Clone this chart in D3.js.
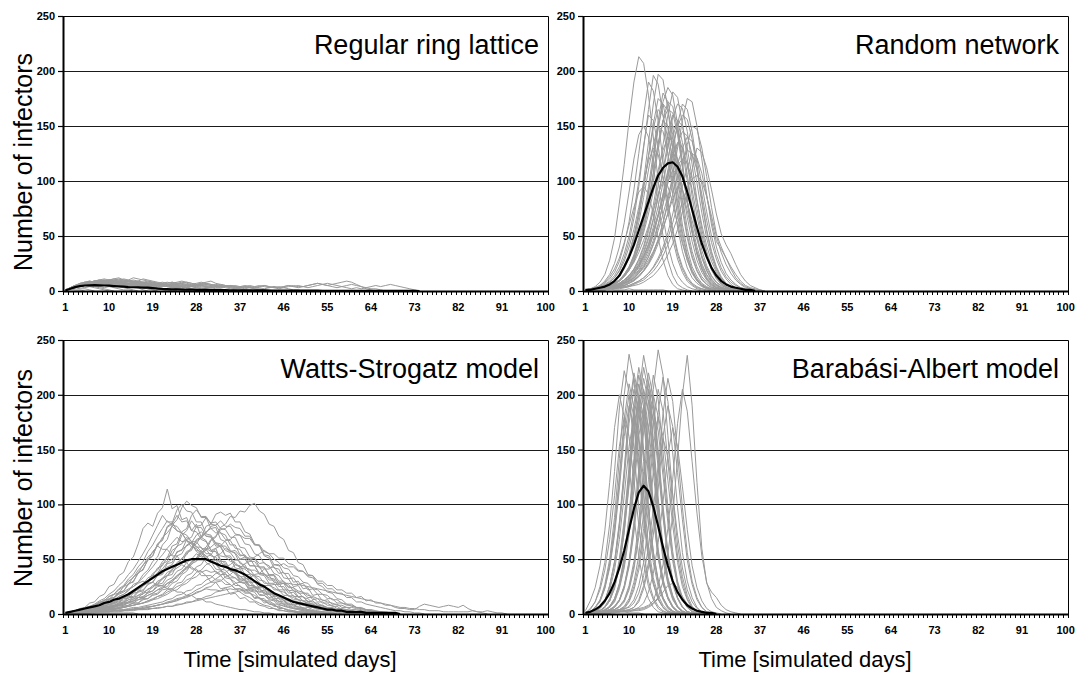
<!DOCTYPE html>
<html><head><meta charset="utf-8">
<script src="https://cdn.jsdelivr.net/npm/d3@7"></script>
<style>
body{margin:0;background:#fff;}
svg{display:block;font-family:"Liberation Sans",Arial,sans-serif;}
.tk text{font-family:"Liberation Sans",Arial,sans-serif;font-weight:bold;font-size:11px;fill:#000;}
</style></head><body>
<svg id="c" width="1077" height="674"></svg>
<script>
// ---------- categories / ticks / labels ----------
const days = d3.range(1, 101);
const xTickLabels = [1,10,19,28,37,46,55,64,73,82,91,100];
const yTicks = [0,50,100,150,200,250];
const panelTitles = ["Regular ring lattice","Random network","Watts-Strogatz model","Barabási-Albert model"];
const yTitle = "Number of infectors";
const xTitle = "Time [simulated days]";

// ---------- Regular ring lattice (values from day 1) ----------
const ringMean = [0.5,2,3.5,4.5,5,5.2,5.3,5.2,5,4.8,4.5,4.2,3.9,3.6,3.4,3.3,3.1,3,2.6,2.2,1.9,1.7,1.5,1.4,1.3,1.2,1.2,1.1,1,1,0.9,0.9,0.8,0.8,0.7,0.7,0.6,0.6,0.6,0.5,0.5,0.5,0.4,0.4,0.4,0.4,0.3,0.3,0.3,0.3,0.3,0.3,0.3,0.2,0.2,0.2,0.2,0.2,0.2,0.2,0.2,0.2,0.1,0.1,0.1,0.1,0.1,0.1,0.1,0.1,0.1,0.1,0.1,0];
const ringRuns = [
[1,3,5,6,7,6,7,8,7,6,7,6,5,6,5,4,3,2,1,0],
[1,3,5,7,8,7,8,9,8,9,10,9,8,9,8,7,8,7,6,7,6,5,6,5,4,5,4,3,3,2,2,1,1,0],
[1,2,4,5,6,5,4,3,2,1,0],
[1,2,4,6,7,8,9,8,9,10,11,12,10,9,8,9,8,7,6,5,6,5,4,3,2,1,0],
[1,3,4,6,7,7,8,7,6,7,8,7,6,7,8,9,11,10,9,8,7,8,7,8,9,8,7,6,7,6,5,6,5,4,5,4,3,4,3,2,2,1,1,0],
[1,2,3,2,2,1,0],
[1,2,3,5,6,6,7,6,7,8,7,8,7,6,5,6,5,4,3,3,2,1,1,0],
[1,2,4,5,6,7,6,7,8,7,8,9,8,7,8,7,6,7,6,5,6,7,8,7,6,5,6,7,8,7,6,5,6,5,4,5,4,5,4,3,4,5,4,3,4,3,4,5,4,4,5,6,7,6,5,6,7,8,9,8,6,4,2,1,0],
[1,2,3,4,5,6,5,6,7,6,5,6,5,6,7,6,5,6,5,4,5,6,5,6,7,8,7,6,5,6,5,4,5,4,5,4,3,4,5,4,5,4,3,4,3,4,5,4,3,4,5,6,7,6,5,4,3,4,3,2,3,2,3,4,5,4,5,6,5,4,3,2,1,0],
[1,2,4,5,7,8,9,8,9,10,9,8,7,6,4,3,1,0],
[1,3,4,5,6,7,6,7,8,9,8,7,8,9,10,9,8,7,8,7,6,5,6,5,4,3,2,2,1,0],
[1,2,3,4,5,4,5,4,3,4,3,2,1,1,0],
[1,2,4,5,6,7,8,7,6,7,6,7,6,5,6,5,6,7,6,7,8,7,8,7,6,5,4,5,6,7,6,5,4,4,3,2,2,1,1,0],
[1,3,5,6,7,8,9,10,9,8,9,8,7,6,7,6,5,4,3,2,1,0],
[1,2,3,5,6,5,6,7,6,5,6,5,4,5,6,5,4,5,4,5,6,5,6,5,4,3,4,5,4,3,4,5,4,5,4,3,4,3,4,3,4,5,4,3,2,3,2,1,1,0],
[1,2,3,4,3,4,3,2,1,0],
[1,2,3,5,6,5,6,7,8,7,6,7,8,7,6,7,6,5,6,7,6,5,4,5,4,3,4,3,2,2,1,1,0],
[1,2,3,4,5,6,5,4,5,6,5,4,5,4,5,6,5,4,3,4,5,4,3,4,5,4,5,6,5,4,3,4,3,4,3,2,3,4,3,4,3,2,3,4,3,4,5,4,5,4,3,4,5,6,7,6,5,4,5,6,5,4,3,2,2,1,0],
[1,2,1,1,0],
[1,3,5,6,7,8,7,8,9,8,9,10,11,10,9,8,7,8,7,6,7,6,7,6,5,6,5,6,7,8,9,7,6,5,4,3,2,1,0],
[1,2,4,6,7,8,9,10,9,10,11,10,9,8,9,8,7,6,7,6,5,4,3,2,1,0],
[1,3,5,6,7,6,7,6,7,8,9,8,7,6,5,4,3,2,1,0],
[1,2,3,5,6,7,8,9,10,9,8,7,8,7,8,7,6,5,6,5,4,5,4,3,4,3,2,1,1,0],
[1,2,4,5,6,5,6,7,6,7,8,7,6,7,6,5,6,5,4,3,4,5,6,7,8,7,6,5,6,5,4,3,4,3,2,1,0],
[1,3,4,6,8,9,8,9,8,7,8,9,10,9,8,7,6,5,4,3,2,1,0],
[1,2,3,4,5,6,7,6,5,6,7,8,7,6,7,6,5,6,5,6,5,4,5,4,3,4,5,4,5,4,3,4,3,4,5,4,3,2,3,2,1,1,0],
[1,3,5,7,8,9,8,9,10,9,10,11,10,9,8,7,8,9,8,7,6,5,4,3,2,1,0],
[1,2,3,4,5,6,7,8,7,6,5,4,3,2,1,0],
[1,2,4,6,7,8,7,8,9,8,9,8,7,6,7,8,7,6,5,6,5,4,5,6,7,6,5,4,5,4,3,2,2,1,0],
[1,2,3,5,7,8,9,10,11,10,9,8,9,10,12,11,10,9,8,7,6,5,4,3,2,1,0]
];

// ---------- Random network ----------
const randomMean = [1,1,2,3,4,6,9,14,22,31,42,55,68,81,94,105,112,116,117,113,104,90,74,58,43,31,21,14,9,6,4,3,2,1,1,0];
const randomRuns = [
[1,2,4,8,15,28,48,80,115,155,190,213,207,178,140,100,68,42,25,14,8,4,2,1,0],
[1,1,2,3,5,8,12,19,30,45,66,95,130,165,196,188,160,125,88,58,36,21,12,7,4,2,1,0],
[1,1,2,2,4,6,9,14,22,33,50,72,100,135,170,197,192,165,130,92,60,38,22,13,7,4,2,1,0],
[1,2,3,4,7,11,17,27,42,63,92,125,160,190,182,155,118,82,54,33,20,11,6,3,2,1,0],
[1,1,1,2,3,5,7,10,15,22,33,48,68,95,125,155,180,172,150,118,85,57,36,22,13,8,4,2,1,0],
[1,1,1,2,2,3,5,7,10,14,20,29,41,57,78,104,133,160,181,176,152,120,86,58,37,23,14,8,5,3,1,0],
[1,1,1,1,2,2,3,4,5,7,9,13,18,25,34,46,62,82,105,130,155,175,172,150,120,88,60,40,26,16,10,6,3,2,1,0],
[1,1,2,2,3,4,6,9,13,19,27,39,55,76,100,128,155,172,168,146,115,82,55,35,21,12,7,4,2,1,0],
[1,1,1,2,2,3,4,6,8,12,17,24,34,47,64,86,110,135,158,170,166,145,115,83,56,36,22,13,7,4,2,1,0],
[1,2,2,3,5,7,10,15,23,34,50,70,95,122,148,165,160,138,108,76,50,31,18,10,5,3,1,0],
[1,1,1,1,2,3,4,5,7,10,14,19,27,37,51,68,88,110,132,150,160,156,138,110,80,54,34,21,12,7,4,2,1,0],
[1,1,2,2,3,5,7,10,15,21,30,43,60,82,108,135,155,150,130,102,73,48,30,18,10,6,3,2,1,0],
[1,1,1,2,3,4,5,7,10,14,19,26,36,49,66,86,108,130,150,146,128,100,72,48,30,18,10,6,3,2,1,0],
[1,1,1,1,1,2,2,3,4,5,7,9,12,16,22,30,40,53,70,90,112,133,150,147,130,104,76,52,40,30,22,15,9,5,3,2,1,0],
[1,2,3,5,9,15,25,40,62,90,120,142,150,140,115,80,50,28,14,6,3,1,0],
[1,1,2,2,3,5,7,10,14,20,28,39,53,70,90,110,128,140,136,118,93,67,45,28,17,10,5,3,1,0],
[1,1,1,2,2,3,4,6,8,11,15,21,29,39,52,68,86,105,123,135,131,115,92,68,47,31,19,11,6,3,2,1,0],
[1,2,2,3,5,8,12,18,27,40,56,76,98,118,130,124,104,80,56,36,22,13,7,4,2,1,0],
[1,1,1,1,2,2,3,4,5,7,10,13,18,24,32,43,56,71,88,105,119,128,125,110,88,64,44,29,18,11,6,3,2,1,0],
[1,1,1,2,2,3,4,5,7,9,12,17,23,31,42,55,70,86,102,114,120,116,102,82,60,41,27,17,10,6,3,2,1,0],
[1,1,2,2,3,4,5,7,10,13,18,24,32,42,55,69,84,99,110,106,92,73,53,36,23,14,8,5,3,1,0],
[1,1,2,3,4,5,7,10,14,19,26,35,46,59,73,88,100,95,80,61,43,28,17,10,5,3,1,0],
[1,1,1,1,1,2,2,3,3,4,6,8,10,14,18,24,32,42,54,67,81,94,102,105,100,86,68,50,35,24,16,10,6,3,2,1,0],
[1,1,1,2,2,3,4,5,7,9,12,16,21,28,36,46,58,70,84,95,92,80,64,47,32,21,13,8,4,2,1,0],
[1,2,3,4,6,9,14,22,34,50,72,100,132,160,155,132,102,72,47,29,17,9,5,2,1,0],
[1,1,2,2,3,4,6,9,13,19,28,40,57,80,106,133,155,165,162,142,112,80,53,33,20,11,6,3,2,1,0],
[1,1,2,3,4,6,9,14,21,32,47,67,93,123,152,175,170,148,116,82,54,33,19,11,6,3,2,1,0],
[1,1,1,1,2,3,4,5,7,9,13,18,25,34,46,61,79,98,117,134,145,141,124,98,71,48,31,19,11,6,3,2,1,0],
[1,1,1,2,2,3,5,7,10,14,20,28,39,54,73,96,121,144,160,155,135,106,76,51,32,19,11,6,3,2,1,0],
[1,1,1,1,2,2,3,3,4,5,7,9,12,16,21,28,37,48,62,78,95,112,125,121,107,86,64,45,38,30,20,12,7,4,2,1,0],
[1,1,2,1,1,2,1,1,1,2,1,1,1,1,1,1,1,0],
[1,2,3,5,8,13,20,30,44,60,76,90,95,88,70,48,28,14,6,2,1,0],
[1,1,2,2,3,5,7,10,15,22,32,46,65,90,118,148,170,164,142,110,78,51,32,19,11,6,3,2,1,0],
[1,1,1,2,2,3,4,6,8,11,16,22,31,43,58,77,98,120,140,155,150,130,103,75,51,33,20,12,7,4,2,1,0],
[1,1,1,1,2,2,3,4,5,7,10,14,19,26,35,47,62,79,97,115,130,140,136,120,97,72,50,33,21,13,8,5,3,2,1,0],
[1,1,2,2,3,4,6,9,14,21,31,45,64,89,118,150,172,185,178,152,117,82,54,34,20,11,6,3,2,1,0],
[1,1,1,2,2,3,4,6,9,12,17,23,31,41,54,70,88,108,125,121,105,82,59,40,25,15,9,5,3,1,0],
[1,1,2,3,4,6,9,13,20,30,44,62,85,110,133,150,145,125,97,69,45,28,16,9,5,2,1,0],
[1,1,1,1,2,2,3,4,6,8,11,16,22,31,43,59,79,102,127,152,170,165,145,115,83,56,36,22,13,7,4,2,1,0],
[1,1,1,1,1,2,2,2,3,4,5,6,8,11,14,19,25,33,43,56,72,90,110,130,126,112,92,70,52,42,34,24,15,9,5,3,1,0]
];

// ---------- Watts-Strogatz model ----------
const wsMean = [1,2,3,4,5,6,7,8,10,11,13,14,16,18,21,24,27,30,33,36,39,41,43,45,47,49,50,50,50,50,48,46,44,43,41,40,38,36,33,30,27,25,22,19,17,15,13,11,10,9,8,7,6,5,4,4,3,3,2,2,2,2,1,1,1,1,1,1,1,0];
const wsRuns = [
[1,2,3,5,6,10,11,16,18,25,27,35,38,48,52,64,78,83,80,92,97,114,96,99,86,88,76,82,70,67,58,60,49,46,40,38,29,28,21,20,14,14,9,9,5,5,3,2,2,1,1,0],
[1,1,2,3,4,4,6,8,9,11,12,16,18,21,27,29,36,40,48,52,63,68,81,86,97,103,99,97,88,88,78,79,68,66,58,55,46,45,37,34,28,26,20,19,14,13,9,9,6,5,4,3,2,1,1,0],
[1,1,1,2,2,3,3,3,4,5,5,6,7,8,10,10,13,14,17,18,22,23,28,30,36,39,46,48,56,58,67,70,79,82,89,88,94,93,99,101,94,91,82,80,71,68,58,56,47,45,36,35,27,25,20,19,14,13,9,9,6,5,4,3,2,2,1,1,0],
[1,2,3,4,4,6,7,10,10,14,15,20,21,27,30,37,41,49,53,64,68,80,83,95,100,94,93,84,84,73,72,64,61,53,51,42,41,33,31,25,24,18,18,13,12,9,9,5,5,4,3,2,1,1,0],
[1,1,2,2,3,4,5,6,8,8,11,11,15,16,21,22,28,30,37,40,48,51,62,64,75,78,90,95,89,89,82,81,74,72,63,63,54,53,44,44,36,35,28,28,22,22,16,17,13,12,9,9,6,6,4,4,3,2,2,1,1,0],
[1,1,1,2,2,3,4,4,5,6,6,8,8,11,11,15,15,20,21,27,28,35,36,45,46,56,58,68,70,80,82,91,93,90,92,84,84,75,73,64,62,53,51,42,41,33,32,25,26,19,19,13,14,10,10,7,7,4,4,3,2,2,1,1,0],
[1,2,2,3,4,5,7,9,9,13,14,19,21,28,29,38,40,50,53,64,67,79,82,90,84,85,76,75,68,66,58,57,48,48,40,39,31,31,24,24,17,17,13,12,8,8,6,5,4,3,2,1,1,0],
[1,1,2,2,3,3,4,5,6,7,8,10,11,15,15,20,21,27,29,36,37,46,47,57,58,68,70,80,81,88,83,84,78,77,70,70,61,60,52,51,43,43,35,35,27,28,21,22,16,16,11,12,8,8,5,5,4,3,2,2,1,1,0],
[1,1,2,2,3,4,4,5,7,7,10,10,14,14,19,20,26,28,35,36,46,48,58,61,72,76,85,79,79,71,70,62,62,53,53,45,44,36,36,29,29,22,23,16,17,12,12,8,9,5,6,4,3,2,2,1,1,0],
[1,1,1,1,2,2,3,3,4,4,5,6,7,8,10,10,14,14,18,19,24,25,31,33,39,41,48,51,58,61,68,71,77,78,82,79,78,71,71,63,63,54,53,45,45,37,37,29,30,23,24,17,18,12,13,9,9,6,6,4,4,3,2,2,1,1,0],
[1,2,3,4,5,6,8,10,13,13,18,19,25,27,34,37,45,49,57,62,70,74,80,76,74,67,65,58,57,49,48,41,40,33,32,26,26,20,20,14,15,10,11,7,7,5,4,3,2,2,1,1,0],
[1,1,2,2,3,3,4,5,5,7,7,9,10,13,13,17,18,23,24,30,32,38,40,47,50,57,59,67,69,75,78,74,74,68,67,60,59,52,51,44,43,36,35,29,28,22,22,16,16,12,12,8,8,5,5,3,3,2,2,1,1,0],
[1,1,2,3,3,4,5,6,7,9,9,12,12,16,16,21,22,27,29,35,36,43,45,53,55,63,65,72,75,71,71,65,64,58,56,50,48,42,41,35,34,28,28,22,22,17,17,13,13,9,10,6,7,4,4,3,2,2,1,1,0],
[1,1,1,1,2,2,2,3,3,4,4,5,6,7,8,9,10,12,14,16,18,22,23,28,29,35,37,43,45,52,54,60,62,67,68,72,72,69,69,63,63,57,55,50,47,42,41,35,34,29,28,23,22,18,17,13,13,10,9,7,6,5,4,3,2,2,1,1,0],
[1,2,2,3,4,4,5,7,8,10,11,14,15,19,20,25,27,33,35,42,44,52,54,62,64,70,66,66,60,59,53,52,46,45,39,38,32,32,26,26,20,20,15,16,11,12,8,9,5,6,4,3,2,2,1,1,0],
[1,1,1,2,2,3,3,4,4,5,6,7,8,10,10,13,14,17,19,22,23,28,29,35,37,43,45,51,53,59,61,65,62,62,57,56,50,50,44,44,37,37,31,31,25,25,19,20,15,16,11,12,8,8,6,6,4,4,3,2,2,1,1,0],
[1,2,3,4,5,7,8,11,12,16,18,22,25,30,33,40,44,52,56,62,59,59,53,53,47,47,41,41,35,35,29,29,23,24,18,19,14,15,11,11,8,7,5,5,3,3,2,2,1,1,0],
[1,1,1,1,2,2,2,3,3,4,4,5,6,7,8,9,10,12,13,16,17,20,22,25,27,31,33,38,40,45,47,53,55,60,57,58,53,54,48,48,42,42,36,36,30,30,24,24,19,19,15,15,11,11,8,8,5,5,4,3,2,2,1,1,0],
[1,1,2,2,3,3,4,5,5,6,7,8,9,11,12,15,16,19,21,25,26,31,33,39,41,47,50,55,52,53,48,49,44,44,39,39,34,34,29,29,24,24,20,20,16,16,12,12,9,9,6,6,4,4,3,2,2,1,1,0],
[1,1,1,1,1,2,2,2,3,3,3,4,4,5,6,6,7,8,9,10,11,13,14,17,18,21,22,26,27,31,33,37,39,43,45,49,50,52,50,51,46,47,42,43,37,38,32,33,27,28,22,23,18,18,14,14,10,10,8,8,6,6,4,4,3,2,2,1,1,0],
[1,1,2,2,3,3,4,5,6,7,8,9,11,13,15,17,20,22,26,28,33,35,39,42,45,42,43,39,39,35,35,31,31,27,27,23,23,19,19,15,15,12,12,9,9,7,6,5,4,3,2,2,1,1,0],
[1,1,1,2,2,2,3,3,4,4,5,5,6,7,8,9,10,11,13,14,16,18,21,22,26,28,32,34,38,40,38,39,36,36,33,33,29,29,26,25,22,21,18,17,15,14,12,11,9,8,7,6,5,4,3,3,2,2,1,1,0],
[1,1,1,1,1,1,2,2,2,2,3,3,3,4,4,5,5,6,7,8,9,10,11,12,14,15,17,19,21,23,22,22,21,22,23,22,23,21,22,21,20,22,19,18,17,15,14,12,11,10,9,8,7,6,5,4,3,3,2,2,1,1,1,0],
[1,2,3,4,5,6,8,10,11,14,15,18,20,23,25,28,30,28,29,26,26,23,23,20,20,17,17,14,14,11,11,9,8,7,6,5,4,4,3,2,2,1,1,0],
[1,1,1,1,1,1,1,1,1,1,1,1,1,1,1,0],
[1,1,1,1,1,1,1,2,2,2,2,2,3,3,3,4,4,4,5,5,6,7,7,9,9,11,11,13,14,16,17,20,21,24,25,28,29,32,33,36,37,41,41,45,44,46,43,43,39,39,35,35,30,30,26,26,22,22,19,19,15,16,12,13,10,10,8,8,6,5,5,4,4,7,9,8,7,6,7,8,7,6,8,5,3,2,1,0],
[1,1,1,1,1,1,2,2,2,2,3,3,3,4,4,5,5,6,7,8,9,10,11,13,14,16,17,20,21,24,25,29,30,34,36,40,42,46,48,52,55,58,55,55,51,51,46,45,40,39,34,33,28,28,23,23,19,19,15,15,11,11,9,8,7,6,5,4,3,3,2,2,1,1,0],
[1,2,3,4,5,6,8,10,12,16,18,23,26,32,36,43,48,57,63,71,78,85,81,80,74,72,66,62,57,53,48,45,40,37,32,29,25,23,19,17,14,12,9,8,6,5,3,3,2,2,1,1,0],
[1,1,1,1,1,1,2,2,2,2,3,3,3,3,4,4,4,5,5,6,6,7,7,8,9,10,11,12,13,14,15,16,17,18,19,20,21,22,23,24,25,26,26,27,27,28,28,27,27,26,25,24,23,22,21,20,19,18,17,16,15,14,13,12,11,10,9,8,7,6,6,5,5,4,4,3,3,3,2,2,2,2,2,2,3,2,2,3,2,1,1,0],
[1,2,2,3,4,5,6,8,9,11,13,16,18,22,25,29,33,38,43,49,54,60,65,70,66,67,61,60,55,53,48,46,41,40,35,33,29,28,23,22,18,17,14,13,10,9,7,6,5,4,3,2,2,1,1,0],
[1,1,1,2,2,3,3,4,5,6,7,8,10,11,14,15,19,20,25,27,32,35,41,44,51,54,61,64,71,74,80,81,85,80,80,73,72,64,63,55,53,46,44,37,35,29,27,21,20,15,14,10,10,7,6,4,4,3,2,2,1,1,0],
[1,1,2,2,3,4,5,6,7,9,10,13,14,17,19,23,25,30,32,38,41,47,50,56,59,62,65,61,61,55,55,49,48,42,42,36,35,30,29,24,23,19,18,14,14,10,10,7,7,5,4,3,2,2,1,1,0],
[1,1,1,1,1,2,2,2,2,3,3,3,4,4,5,5,6,7,7,8,9,11,12,14,15,17,19,22,24,27,29,32,35,38,41,45,43,43,40,40,37,36,33,32,29,28,25,24,21,20,17,16,14,13,11,10,8,8,6,6,5,4,3,3,2,2,1,1,0],
[1,2,3,4,6,7,9,12,14,18,21,26,30,36,41,48,55,63,72,81,90,84,84,76,74,67,64,57,54,47,44,38,35,30,27,23,20,17,15,12,10,8,7,5,4,3,2,2,1,1,0],
[1,1,2,2,3,3,4,4,5,6,7,8,9,10,12,13,15,17,19,22,25,28,31,35,39,43,47,51,56,60,57,57,53,52,48,47,42,41,37,35,31,30,26,24,21,20,17,15,13,12,10,9,7,6,5,4,3,2,2,1,1,0]
];

// ---------- Barabási-Albert model ----------
const baMean = [1,2,4,7,12,19,29,42,58,77,96,111,117,112,98,80,61,44,30,20,13,8,5,3,2,1,1,0];
const baRuns = [
[1,5,11,25,47,82,130,188,222,203,150,98,57,30,15,7,3,1,0],
[1,2,6,12,27,50,88,142,200,237,214,160,108,62,33,17,8,3,1,0],
[1,1,2,5,10,26,48,84,132,187,220,198,150,98,57,31,15,7,3,1,0],
[1,1,2,3,6,13,26,48,83,130,185,218,196,148,98,57,30,15,7,3,1,0],
[1,1,1,2,3,7,14,28,52,90,142,200,236,212,160,106,61,33,17,7,3,1,0],
[1,1,1,1,2,2,3,4,7,14,29,53,92,145,205,241,218,163,108,63,34,17,7,3,1,0],
[1,1,1,1,1,1,2,2,2,3,3,4,5,7,10,15,30,55,90,142,200,236,190,120,60,28,20,15,8,4,2,1,0],
[1,1,1,1,1,2,2,2,3,3,4,5,6,8,12,25,45,78,123,174,205,185,139,92,53,29,14,6,3,1,0],
[1,1,2,3,6,12,25,46,80,126,178,210,189,143,95,55,29,14,6,2,1,0],
[1,1,1,2,4,7,13,26,47,82,129,183,215,194,146,97,56,30,15,6,2,1,0],
[1,1,1,2,2,4,7,13,25,47,81,127,180,212,191,144,95,55,30,15,6,2,1,0],
[1,1,1,1,2,3,4,7,12,24,44,76,120,170,200,180,136,90,52,28,14,6,2,1,0],
[1,1,2,6,12,25,45,78,123,174,205,185,139,92,53,29,14,6,2,1,0],
[1,1,1,1,1,2,2,3,4,7,13,26,47,82,130,184,216,194,147,97,56,30,15,6,2,1,0],
[1,1,1,1,1,1,2,2,3,4,6,13,26,47,82,129,183,215,194,146,97,56,30,15,6,2,1,0],
[1,2,6,11,23,42,72,114,162,190,171,129,86,49,27,13,6,2,1,0],
[1,1,2,3,6,12,24,44,76,120,170,200,180,136,90,52,28,14,6,2,1,0],
[1,1,1,2,2,3,6,12,23,43,74,117,166,195,176,133,88,51,27,14,6,2,1,0],
[3,12,24,44,76,120,170,200,180,136,90,52,28,14,6,2,1,0],
[1,1,1,2,3,6,11,23,42,72,114,162,190,171,129,86,49,27,13,6,2,1,0],
[1,1,1,1,2,3,4,6,11,22,41,70,111,157,185,167,126,83,48,26,13,6,2,1,0],
[1,1,1,1,1,1,2,2,3,3,4,6,10,20,37,65,102,145,170,153,116,77,44,24,12,5,2,1,0],
[1,1,2,5,11,22,40,68,108,153,180,162,122,81,47,25,13,5,2,1,0],
[1,1,1,1,2,2,3,4,6,12,25,45,78,123,174,205,185,139,92,53,29,14,6,2,1,0],
[1,4,11,22,40,68,108,153,180,162,122,81,47,25,13,5,2,1,0],
[1,1,1,2,2,4,7,13,26,48,84,132,187,220,198,150,99,57,31,15,7,2,1,0],
[1,1,1,2,4,6,12,25,45,78,123,174,205,185,139,92,53,29,14,6,2,1,0],
[1,1,1,1,1,2,2,3,5,6,10,19,35,61,96,136,160,144,109,72,42,22,11,5,2,1,0],
[1,1,2,3,7,14,27,50,86,135,191,225,203,153,101,59,32,16,7,2,1,0],
[1,2,6,13,25,46,80,126,178,210,189,143,95,55,29,14,6,2,1,0],
[1,2,3,2,3,4,3,2,2,1,1,1,0],
[1,1,1,1,1,1,1,2,2,2,3,3,4,6,9,14,20,26,28,24,16,9,5,2,1,0],
[1,1,2,6,12,26,47,82,129,183,215,194,146,97,56,30,15,6,2,1,0],
[1,1,1,2,3,7,14,27,50,86,135,191,225,203,153,101,59,32,16,7,2,1,0],
[1,1,1,1,2,4,6,12,25,45,78,123,174,205,185,139,92,53,29,14,6,2,1,0],
[1,1,2,3,6,12,23,43,74,117,166,195,176,133,88,51,27,14,6,2,1,0],
[1,1,1,1,2,3,4,7,13,26,48,83,130,185,218,196,148,98,57,30,15,7,3,1,0],
[1,1,1,1,2,2,3,4,5,11,22,40,68,108,153,180,162,122,81,47,25,13,5,2,1,0],
[1,2,6,12,24,44,76,120,170,200,180,136,90,52,28,14,6,2,1,0],
[1,1,1,1,1,1,2,2,3,4,6,11,23,42,72,114,162,190,171,129,86,49,27,13,6,2,1,0]
];

// ---------- layout (positions / styles only) ----------
const layout = [
  {x0:63, x1:548, y0:16, y1:291},
  {x0:583, x1:1068, y0:16, y1:291},
  {x0:63, x1:548, y0:340, y1:614},
  {x0:583, x1:1068, y0:340, y1:614}
];
const runsByPanel = [ringRuns, randomRuns, wsRuns, baRuns];
const meanByPanel = [ringMean, randomMean, wsMean, baMean];

const svg = d3.select("#c");

layout.forEach((L, pi) => {
  const g = svg.append("g");
  const x = d3.scaleBand().domain(days).range([L.x0, L.x1]).padding(0);
  const y = d3.scaleLinear().domain([0, 250]).range([L.y1, L.y0]);
  const cx = d => x(d) + x.bandwidth() / 2;
  const line = d3.line().x((v, i) => cx(days[i])).y(v => y(v));

  // gridlines
  g.selectAll(".grid").data(yTicks.filter(t => t > 0 && t < 250)).enter().append("line")
    .attr("x1", L.x0).attr("x2", L.x1)
    .attr("y1", t => Math.round(y(t)) + 0.5).attr("y2", t => Math.round(y(t)) + 0.5)
    .attr("stroke", "#1a1a1a").attr("stroke-width", 1);

  // individual runs
  g.selectAll(".run").data(runsByPanel[pi]).enter().append("path")
    .attr("d", r => line(r))
    .attr("fill", "none").attr("stroke", "#9a9a9a").attr("stroke-width", 1)
    .attr("stroke-linejoin", "round");

  // mean
  g.append("path").attr("d", line(meanByPanel[pi]))
    .attr("fill", "none").attr("stroke", "#000").attr("stroke-width", 2.2)
    .attr("stroke-linejoin", "round");

  // plot border (top & right)
  g.append("path")
    .attr("d", `M${L.x0},${Math.round(y(250)) + 0.5}H${L.x1 + 0.5}V${L.y1}`)
    .attr("fill", "none").attr("stroke", "#000").attr("stroke-width", 1);

  // y axis
  const ya = g.append("g").attr("class", "tk").attr("transform", `translate(${L.x0},0)`)
    .call(d3.axisLeft(y).tickValues(yTicks).tickSize(5).tickSizeOuter(0).tickPadding(3));
  ya.attr("font-size", null).attr("font-family", null);
  ya.select(".domain").attr("stroke-width", 2);
  ya.selectAll(".tick line").attr("stroke-width", 1.2);

  // x axis
  const xa = g.append("g").attr("class", "tk").attr("transform", `translate(0,${L.y1})`)
    .call(d3.axisBottom(x).tickValues(xTickLabels).tickSize(0).tickSizeOuter(0).tickPadding(12));
  xa.attr("font-size", null).attr("font-family", null);
  xa.select(".domain").attr("stroke-width", 2);
  // category boundary tick marks
  const bounds = days.map(d => x(d)).concat([L.x1]);
  xa.selectAll(".minor").data(bounds).enter().append("line")
    .attr("x1", b => Math.round(b) + 0.5).attr("x2", b => Math.round(b) + 0.5)
    .attr("y1", 0).attr("y2", 4).attr("stroke", "#000").attr("stroke-width", 1);

  // panel title
  g.append("text").attr("x", L.x1 - 9).attr("y", L.y0 + 38)
    .attr("text-anchor", "end").attr("font-size", 27).attr("fill", "#000")
    .text(panelTitles[pi]);
});

// axis titles
[{cy:162}, {cy:478}].forEach(o => {
  svg.append("text").attr("transform", `translate(32,${o.cy}) rotate(-90)`)
    .attr("text-anchor", "middle").attr("font-size", 25).attr("fill", "#000").text(yTitle);
});
[{cx:290}, {cx:805}].forEach(o => {
  svg.append("text").attr("x", o.cx).attr("y", 667)
    .attr("text-anchor", "middle").attr("font-size", 22).attr("fill", "#000").text(xTitle);
});
</script>
</body></html>
